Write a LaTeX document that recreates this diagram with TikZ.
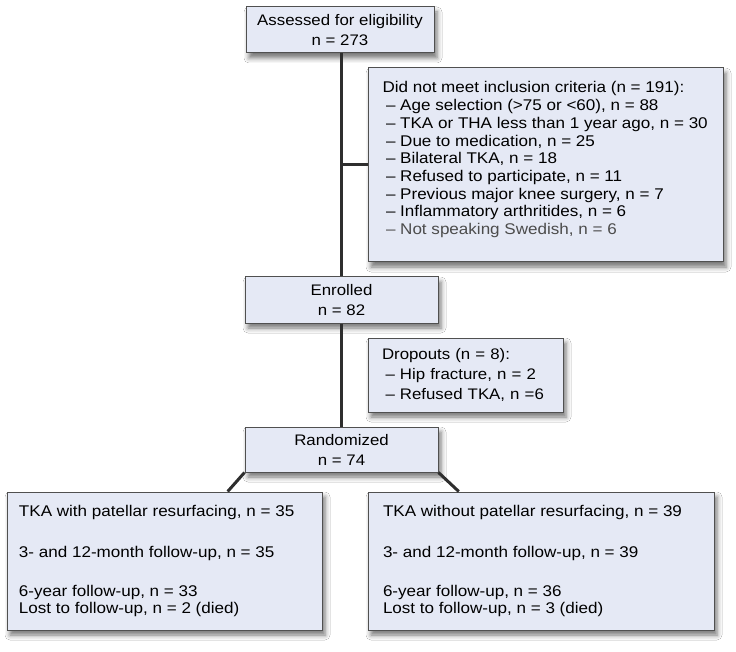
\documentclass[tikz,border=0pt]{standalone}
\usepackage{fontspec}
\setmainfont{Liberation Sans}[FakeStretch=1.1]
\usetikzlibrary{shadows.blur,calc}
\definecolor{boxfill}{HTML}{E5E9F5}
\definecolor{boxline}{HTML}{505050}
\definecolor{conn}{HTML}{2E2E2E}
\tikzset{
  flowbox/.style={draw=boxline, line width=1pt, fill=boxfill, rectangle, inner ysep=0pt,
    blur shadow={shadow xshift=3pt, shadow yshift=-5pt, shadow blur radius=5pt, shadow opacity=55}},
  centerbox/.style={flowbox, align=center, font=\fontsize{15.3}{20}\selectfont},
  listbox/.style={flowbox, align=left, font=\fontsize{15.3}{19.7}\selectfont},
  armbox/.style={flowbox, font=\fontsize{15.5}{17.3}\selectfont},
  link/.style={draw=conn, line width=3pt},
}
\newcommand\fbtext[3]{\parbox[c][#1][t]{#2}{#3}}
\newcommand\dsh{\hspace{3.5pt}–\ }
\newcommand\li[1]{\makebox[0pt][l]{#1}}
\begin{document}
\begin{tikzpicture}[x=1pt,y=-1pt]
\fill[white] (0,0) rectangle (736,652);
\useasboundingbox (0,0) rectangle (736,652);

\node[centerbox, minimum width=188pt, minimum height=46pt] (assess) at (340,30)
  {Assessed for eligibility\\ n = 273};

\node[flowbox, inner xsep=14.5pt, font=\fontsize{15.5}{17.7}\selectfont] (criteria) at (545.5,165)
  {\fbtext{194pt}{326pt}{\rule{0pt}{25pt}\li{Did not meet inclusion criteria (n = 191):}\\
  \li{\dsh Age selection (>75 or <60), n = 88}\\
  \li{\dsh TKA or THA less than 1 year ago, n = 30}\\
  \li{\dsh Due to medication, n = 25}\\
  \li{\dsh Bilateral TKA, n = 18}\\
  \li{\dsh Refused to participate, n = 11}\\
  \li{\dsh Previous major knee surgery, n = 7}\\
  \li{\dsh Inflammatory arthritides, n = 6}\\
  \li{\color{black!70}\dsh Not speaking Swedish, n = 6}}};

\node[centerbox, minimum width=193pt, minimum height=46pt] (enrolled) at (341.5,300)
  {Enrolled\\ n = 82};

\node[listbox, inner xsep=14pt, text width=167pt, minimum height=74pt] (dropouts) at (465.5,375)
  {Dropouts (n = 8):\\
  \dsh Hip fracture, n = 2\\
  \dsh Refused TKA, n =6};

\node[centerbox, minimum width=193pt, minimum height=45pt] (random) at (341.5,449.5)
  {Randomized\\ n = 74};

\node[armbox, inner xsep=12pt] (left) at (164.5,561)
  {\fbtext{138pt}{291pt}{\rule{0pt}{24pt}\li{TKA with patellar resurfacing, n = 35}\\[23.7pt]
  \li{3- and 12-month follow-up, n = 35}\\[21.7pt]
  \li{6-year follow-up, n = 33}\\
  \li{Lost to follow-up, n = 2 (died)}}};

\node[armbox, inner xsep=15pt] (right) at (541,561)
  {\fbtext{138pt}{316pt}{\rule{0pt}{24pt}\li{TKA without patellar resurfacing, n = 39}\\[23.7pt]
  \li{3- and 12-month follow-up, n = 39}\\[21.7pt]
  \li{6-year follow-up, n = 36}\\
  \li{Lost to follow-up, n = 3 (died)}}};

\draw[link] (assess.south -| enrolled.north) -- (enrolled.north);
\draw[link] (criteria.west -| enrolled.north) -- (criteria.west);
\draw[link] (enrolled.south) -- (random.north);
\draw[link] (random.south west) -- ($(left.north west)!0.7!(left.north east)$);
\draw[link] (random.south east) -- ($(right.north west)!0.263!(right.north east)$);
\end{tikzpicture}
\end{document}
